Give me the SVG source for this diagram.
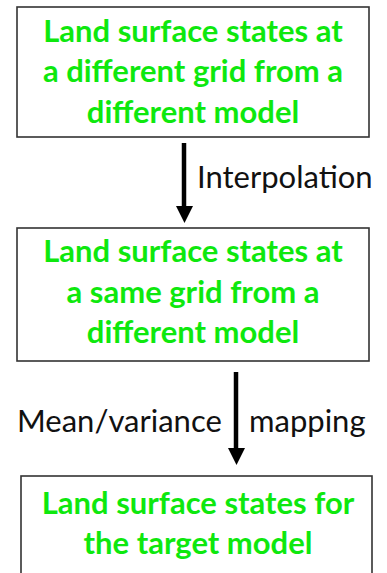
<svg xmlns="http://www.w3.org/2000/svg" width="387" height="573" viewBox="0 0 387 573">
<style>
.box{fill:#fff;stroke:#333;stroke-width:1.6}
.t{font-family:Lato,"Open Sans",sans-serif;font-weight:bold;font-size:31px;fill:#0ee80e;text-anchor:middle}
.lbl{font-family:Lato,"Open Sans",sans-serif;font-size:31px;fill:#111}
.shaft{stroke:#000;stroke-width:4.5}
</style>
<rect width="387" height="573" fill="#fff"/>
<g id="node1">
<rect class="box" x="17" y="7" width="352" height="130"/>
<text class="t" x="193" y="42">Land surface states at</text>
<text class="t" x="193" y="82">a different grid from a</text>
<text class="t" x="193" y="123">different model</text>
</g>
<g id="node2">
<rect class="box" x="17" y="228" width="352" height="133"/>
<text class="t" x="193" y="262">Land surface states at</text>
<text class="t" x="193" y="303">a same grid from a</text>
<text class="t" x="193" y="343">different model</text>
</g>
<g id="node3">
<rect class="box" x="21" y="476" width="351" height="110"/>
<text class="t" x="198" y="514">Land surface states for</text>
<text class="t" x="198" y="554">the target model</text>
</g>
<g id="connectors">
<line class="shaft" x1="184" y1="143" x2="184" y2="207"/>
<polygon points="176,206 193,206 184.5,223"/>
<text class="lbl" x="197" y="188">Interpolation</text>
<line class="shaft" x1="236" y1="372" x2="236" y2="449"/>
<polygon points="228,448 245,448 236.5,465"/>
<text class="lbl" x="17" y="432">Mean/variance</text>
<text class="lbl" x="249" y="432">mapping</text>
</g>
</svg>
